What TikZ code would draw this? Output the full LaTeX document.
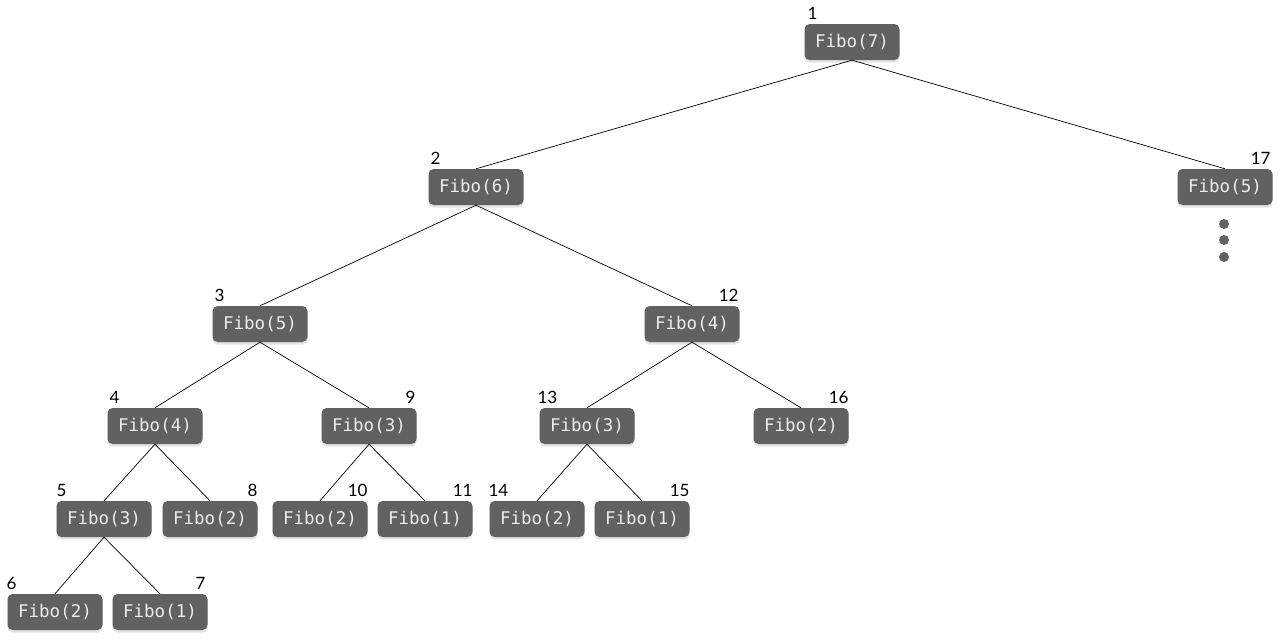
\documentclass[tikz,border=0pt]{standalone}
\usepackage{fontspec}
\newfontfamily\monofont{DejaVu Sans Mono}
\newfontfamily\labfont{Lato}
\usetikzlibrary{shadows,calc}
\definecolor{nodegray}{HTML}{616161}
\begin{document}
\begin{tikzpicture}[x=1pt,y=-1pt,
  fibo/.style={fill=nodegray, rounded corners=5pt, minimum width=95pt, minimum height=36pt, inner sep=0pt,
    text=white!92!black, font=\monofont\fontsize{17.5}{20}\selectfont,
    drop shadow={opacity=0.22, shadow xshift=0pt, shadow yshift=-2.5pt}},
  edge/.style={draw=black, line width=0.7pt},
  lab/.style={font=\labfont\fontsize{17}{19}\selectfont, inner sep=0pt, text=black},
  dot/.style={circle, fill=nodegray, minimum size=10pt, inner sep=0pt}]
\useasboundingbox (0,0) rectangle (1280,640);
% nodes
\node[fibo] (n1)  at (852,42)  {Fibo(7)};
\node[fibo] (n2)  at (476,187) {Fibo(6)};
\node[fibo] (n17) at (1225,187) {Fibo(5)};
\node[fibo] (n3)  at (260,324) {Fibo(5)};
\node[fibo] (n12) at (692,324) {Fibo(4)};
\node[fibo] (n4)  at (155,426) {Fibo(4)};
\node[fibo] (n9)  at (369,426) {Fibo(3)};
\node[fibo] (n13) at (587,426) {Fibo(3)};
\node[fibo] (n16) at (801,426) {Fibo(2)};
\node[fibo] (n5)  at (104,519) {Fibo(3)};
\node[fibo] (n8)  at (210,519) {Fibo(2)};
\node[fibo] (n10) at (320,519) {Fibo(2)};
\node[fibo] (n11) at (425,519) {Fibo(1)};
\node[fibo] (n14) at (537,519) {Fibo(2)};
\node[fibo] (n15) at (642,519) {Fibo(1)};
\node[fibo] (n6)  at (55,612)  {Fibo(2)};
\node[fibo] (n7)  at (160,612) {Fibo(1)};
% dots
\node[dot] (d1) at (1224,224) {};
\node[dot] (d2) at (1224,240) {};
\node[dot] (d3) at (1224,257) {};
% labels (left)
\node[lab, anchor=base west] (l1)  at ($(n1.north west)+(3,-4)$)  {1};
\node[lab, anchor=base west] (l2)  at ($(n2.north west)+(2,-4)$)  {2};
\node[lab, anchor=base west] (l3)  at ($(n3.north west)+(2,-4)$)  {3};
\node[lab, anchor=base west] (l4)  at ($(n4.north west)+(2,-4)$)  {4};
\node[lab, anchor=base west] (l5)  at ($(n5.north west)+(0,-4)$)  {5};
\node[lab, anchor=base west] (l6)  at ($(n6.north west)+(-1,-4)$)  {6};
\node[lab, anchor=base west] (l13) at ($(n13.north west)+(-2,-4)$) {13};
\node[lab, anchor=base west] (l14) at ($(n14.north west)+(-1,-4)$) {14};
% labels (right)
\node[lab, anchor=base east] (l17) at ($(n17.north east)+(-2,-4)$) {17};
\node[lab, anchor=base east] (l12) at ($(n12.north east)+(-1,-4)$) {12};
\node[lab, anchor=base east] (l9)  at ($(n9.north east)+(-1,-4)$)  {9};
\node[lab, anchor=base east] (l16) at ($(n16.north east)+(0,-4)$)  {16};
\node[lab, anchor=base east] (l8)  at ($(n8.north east)+(0,-4)$)   {8};
\node[lab, anchor=base east] (l10) at ($(n10.north east)+(0,-4)$)  {10};
\node[lab, anchor=base east] (l11) at ($(n11.north east)+(0,-4)$)  {11};
\node[lab, anchor=base east] (l15) at ($(n15.north east)+(0,-4)$)  {15};
\node[lab, anchor=base east] (l7)  at ($(n7.north east)+(-2,-4)$)  {7};
% edges
\draw[edge] (n1.south) -- (n2.north);
\draw[edge] (n1.south) -- (n17.north);
\draw[edge] (n2.south) -- (n3.north);
\draw[edge] (n2.south) -- (n12.north);
\draw[edge] (n3.south) -- (n4.north);
\draw[edge] (n3.south) -- (n9.north);
\draw[edge] (n12.south) -- (n13.north);
\draw[edge] (n12.south) -- (n16.north);
\draw[edge] (n4.south) -- (n5.north);
\draw[edge] (n4.south) -- (n8.north);
\draw[edge] (n9.south) -- (n10.north);
\draw[edge] (n9.south) -- (n11.north);
\draw[edge] (n13.south) -- (n14.north);
\draw[edge] (n13.south) -- (n15.north);
\draw[edge] (n5.south) -- (n6.north);
\draw[edge] (n5.south) -- (n7.north);
\end{tikzpicture}
\end{document}
